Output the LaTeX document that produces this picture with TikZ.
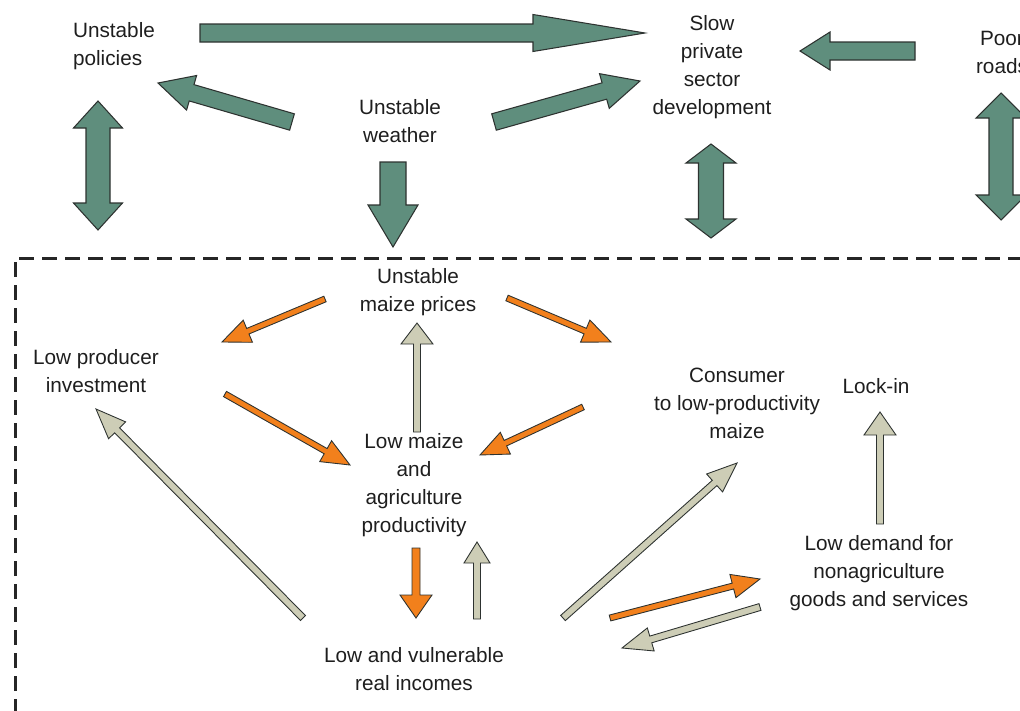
\documentclass[tikz,border=0pt]{standalone}
\usepackage{fontspec}
\setmainfont{Liberation Sans}
\usepackage{xcolor}
\usepackage{tikz}
\usetikzlibrary{calc}
\definecolor{FlowGreen}{RGB}{95,142,125}
\definecolor{FlowOrange}{RGB}{242,128,28}
\definecolor{FlowBeige}{RGB}{205,205,182}
\definecolor{FlowEdge}{RGB}{45,50,48}
\definecolor{FlowText}{RGB}{30,30,30}

% block arrow: style, tail, tip, shaft half width, head half width, head length
\newcommand{\blockarrow}[6]{%
  \path ($(#3)!#6!(#2)$) coordinate (hb);
  \draw[#1] ($(#2)!#4!90:(#3)$) -- ($(hb)!#4!90:(#3)$) -- ($(hb)!#5!90:(#3)$)
    -- (#3) -- ($(hb)!#5!-90:(#3)$) -- ($(hb)!#4!-90:(#3)$)
    -- ($(#2)!#4!-90:(#3)$) -- cycle;}
% same, with a head at both ends
\newcommand{\blockdarrow}[6]{%
  \path ($(#3)!#6!(#2)$) coordinate (hb) ($(#2)!#6!(#3)$) coordinate (ha);
  \draw[#1] (#2) -- ($(ha)!#5!90:(#3)$) -- ($(ha)!#4!90:(#3)$)
    -- ($(hb)!#4!90:(#3)$) -- ($(hb)!#5!90:(#3)$) -- (#3)
    -- ($(hb)!#5!-90:(#3)$) -- ($(hb)!#4!-90:(#3)$)
    -- ($(ha)!#4!-90:(#3)$) -- ($(ha)!#5!-90:(#3)$) -- cycle;}

\begin{document}
\begin{tikzpicture}[x=0.2mm, y=-0.2mm,
          lbl/.style={font={\fontsize{11.8}{15.9}\selectfont}, align=center,
                      inner sep=0pt, text=FlowText},
          bigarr/.style={fill=FlowGreen, draw=FlowEdge, line width=0.6pt},
          hotarr/.style={fill=FlowOrange, draw=FlowEdge, line width=0.5pt},
          palearr/.style={fill=FlowBeige, draw=FlowEdge, line width=0.5pt},
          dashbox/.style={draw=black!85, line width=0.6mm,
                          dash pattern=on 3mm off 1.6mm}
        ]
        \clip (0,0) rectangle (1020,711);

        % Outer factors
        \node[lbl, align=left] (pol) at (114,46) {Unstable\\policies};
        \node[lbl] (wea) at (400,121) {Unstable\\weather};
        \node[lbl] (psd) at (712,67)  {Slow\\private\\sector\\development};
        \node[lbl] (rds) at (1002,52) {Poor\\roads};

        \coordinate (t1) at (200,33);  \coordinate (h1) at (645,33);
        \coordinate (t2) at (292,122); \coordinate (h2) at (158,83);
        \coordinate (t3) at (494,122); \coordinate (h3) at (640,81);
        \coordinate (t4) at (915,51);  \coordinate (h4) at (800,51);
        \coordinate (t5) at (393,162); \coordinate (h5) at (393,247);
        \blockarrow{bigarr}{t1}{h1}{1.8mm}{3.7mm}{22.4mm}
        \blockarrow{bigarr}{t2}{h2}{1.7mm}{3.6mm}{7mm}
        \blockarrow{bigarr}{t3}{h3}{1.7mm}{3.6mm}{7.4mm}
        \blockarrow{bigarr}{t4}{h4}{1.8mm}{3.8mm}{6mm}
        \blockarrow{bigarr}{t5}{h5}{2.6mm}{5mm}{8.4mm}

        \coordinate (d1a) at (98,101);   \coordinate (d1b) at (98,230);
        \coordinate (d2a) at (711,144);  \coordinate (d2b) at (711,238);
        \coordinate (d3a) at (1001,93);  \coordinate (d3b) at (1001,220);
        \blockdarrow{bigarr}{d1a}{d1b}{2.4mm}{4.9mm}{5.4mm}
        \blockdarrow{bigarr}{d2a}{d2b}{2.5mm}{5mm}{3.8mm}
        \blockdarrow{bigarr}{d3a}{d3b}{2.4mm}{5mm}{5mm}

        % Dashed frame
        \draw[dashbox] (15,760) |- (1060,258);

        % Inner loop
        \node[lbl] (mzp) at (418,292) {Unstable\\maize prices};
        \node[lbl] (inv) at (96,371)  {Low producer\\investment};
        \node[lbl] (con) at (737,403) {Consumer\\to low-productivity\\maize};
        \node[lbl] (lck) at (876,386) {Lock-in};
        \node[lbl] (agp) at (414,485) {Low maize\\and\\agriculture\\productivity};
        \node[lbl] (inc) at (414,669) {Low and vulnerable\\real incomes};
        \node[lbl] (dmd) at (879,573) {Low demand for\\nonagriculture\\goods and services};

        \coordinate (oa) at (325,299); \coordinate (oa') at (222,342);
        \coordinate (ob) at (507,298); \coordinate (ob') at (611,342);
        \coordinate (oc) at (583,407); \coordinate (oc') at (480,455);
        \coordinate (od) at (225,394); \coordinate (od') at (350,465);
        \coordinate (oe) at (416,548); \coordinate (oe') at (416,618);
        \coordinate (of) at (610,618); \coordinate (of') at (760,579);
        \blockarrow{hotarr}{oa}{oa'}{0.6mm}{2.4mm}{5.6mm}
        \blockarrow{hotarr}{ob}{ob'}{0.6mm}{2.4mm}{5.6mm}
        \blockarrow{hotarr}{oc}{oc'}{0.6mm}{2.4mm}{5.6mm}
        \blockarrow{hotarr}{od}{od'}{0.6mm}{2.4mm}{5.6mm}
        \blockarrow{hotarr}{oe}{oe'}{0.8mm}{3.2mm}{4.6mm}
        \blockarrow{hotarr}{of}{of'}{0.6mm}{2.4mm}{5.6mm}

        \coordinate (pg) at (417,432); \coordinate (pg') at (417,323);
        \coordinate (ph) at (303,618); \coordinate (ph') at (96,409);
        \coordinate (pi) at (477,619); \coordinate (pi') at (477,542);
        \coordinate (pj) at (563,618); \coordinate (pj') at (737,463);
        \coordinate (pk) at (880,524); \coordinate (pk') at (880,412);
        \coordinate (pl) at (760,607); \coordinate (pl') at (622,648);
        \blockarrow{palearr}{pg}{pg'}{0.7mm}{3.2mm}{4.2mm}
        \blockarrow{palearr}{ph}{ph'}{0.7mm}{2.4mm}{6mm}
        \blockarrow{palearr}{pi}{pi'}{0.7mm}{2.6mm}{4.2mm}
        \blockarrow{palearr}{pj}{pj'}{0.7mm}{2.4mm}{6mm}
        \blockarrow{palearr}{pk}{pk'}{0.7mm}{3.2mm}{4.6mm}
        \blockarrow{palearr}{pl}{pl'}{0.7mm}{2.4mm}{6mm}
      \end{tikzpicture}
\end{document}
